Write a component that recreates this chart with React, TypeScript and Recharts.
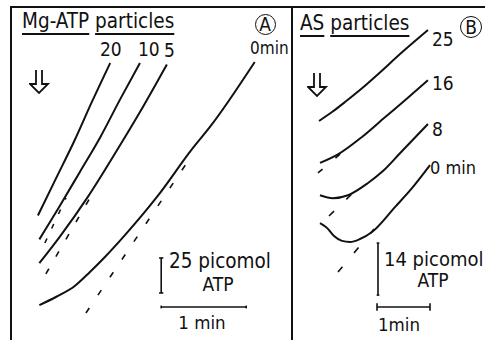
import { LineChart, Line, XAxis, YAxis, ReferenceLine } from 'recharts'
import type { ReactNode } from 'react'

type Pt = { t: number; atp: number }

// Panel A: Mg-ATP particles (t in s after addition, ATP in picomol)
const a20: Pt[] = [
  { t: 0, atp: 71 }, { t: 12, atp: 96 }, { t: 26, atp: 125 }, { t: 38, atp: 152 }, { t: 51, atp: 180 },
]
const a10: Pt[] = [
  { t: 1, atp: 54 }, { t: 15.5, atp: 78 }, { t: 29.5, atp: 102 }, { t: 44, atp: 127 }, { t: 58, atp: 154 }, { t: 72, atp: 180 },
]
const a5: Pt[] = [
  { t: 1, atp: 37 }, { t: 15.5, atp: 56 }, { t: 35, atp: 84 }, { t: 56, atp: 118 }, { t: 72, atp: 145 }, { t: 91, atp: 179 },
]
const a0: Pt[] = [
  { t: 1, atp: 7 }, { t: 13, atp: 13 }, { t: 26, atp: 20.7 }, { t: 36.7, atp: 30.7 }, { t: 47.3, atp: 41.4 },
  { t: 61.4, atp: 57 }, { t: 84, atp: 84.3 }, { t: 109.4, atp: 119.3 }, { t: 121.4, atp: 134.3 }, { t: 153, atp: 180.7 },
]
// extrapolated steady-state rates (dashed)
const a10Fit: Pt[] = [{ t: 4.9, atp: 51.4 }, { t: 19.8, atp: 83.6 }]
const a5Fit: Pt[] = [{ t: 5.6, atp: 29.3 }, { t: 36.7, atp: 83.6 }]
const a0Fit: Pt[] = [{ t: 33.9, atp: 1.4 }, { t: 107.3, atp: 112 }]

// Panel B: AS particles
const b25: Pt[] = [
  { t: -1.1, atp: 41.5 }, { t: 13.6, atp: 43.9 }, { t: 29.4, atp: 46.8 }, { t: 47.6, atp: 50.3 },
  { t: 65.7, atp: 54.1 }, { t: 92.9, atp: 60 }, { t: 122.3, atp: 66 },
]
const b16: Pt[] = [
  { t: 0, atp: 30.2 }, { t: 20.4, atp: 32.5 }, { t: 47.6, atp: 37.2 }, { t: 73.6, atp: 42.5 },
  { t: 96.3, atp: 47.1 }, { t: 122.3, atp: 52.5 },
]
const b8: Pt[] = [
  { t: 0, atp: 21.5 }, { t: 14.7, atp: 20.7 }, { t: 31.7, atp: 21.5 }, { t: 54.4, atp: 24.8 },
  { t: 71.3, atp: 28 }, { t: 90.6, atp: 32.8 }, { t: 122.3, atp: 40.7 },
]
const b0: Pt[] = [
  { t: 0, atp: 14 }, { t: 7.9, atp: 12.7 }, { t: 15.9, atp: 10.5 }, { t: 24.9, atp: 9.2 }, { t: 34, atp: 8.9 },
  { t: 45.3, atp: 9.7 }, { t: 58.9, atp: 11.6 }, { t: 84.9, atp: 18.3 }, { t: 104.2, atp: 23.4 }, { t: 124.6, atp: 29.6 },
]
const b16Fit: Pt[] = [{ t: -2.3, atp: 27.5 }, { t: 28.3, atp: 33.7 }]
const b8Fit: Pt[] = [{ t: 10.2, atp: 15.9 }, { t: 40.8, atp: 22.9 }]
const b0Fit: Pt[] = [{ t: 20.4, atp: 0.8 }, { t: 61.2, atp: 12.4 }]

// calibration bars: picomol bracket at time t from atp, 1 min bar at level y from t0
const scaleA = { t: 87, atp: 15.7, pmol: 25, y: 5.7, t0: 87, sec: 60 }
const scaleB = { t: 65.7, atp: -5.4, pmol: 14, y: -8.6, t0: 64.6, sec: 60 }

const FONT = '"DejaVu Sans Condensed", "DejaVu Sans", sans-serif'
const INK = '#111'

function Txt({ x, y, size, children, center }: {
  x: number; y: number; size: number; children: ReactNode; center?: boolean
}) {
  return (
    <div style={{
      position: 'absolute', left: x, top: y - 0.12 * size, fontSize: size, lineHeight: 1,
      fontFamily: FONT, color: INK, whiteSpace: 'nowrap',
      transform: center ? 'translateX(-50%)' : undefined,
    }}>{children}</div>
  )
}

function Circ({ x, y, r, ch }: { x: number; y: number; r: number; ch: string }) {
  return (
    <div style={{
      position: 'absolute', left: x - r, top: y - r, width: 2 * r, height: 2 * r, boxSizing: 'border-box',
      border: `1.7px solid ${INK}`, borderRadius: '50%', display: 'flex', alignItems: 'center',
      justifyContent: 'center', fontFamily: FONT, fontSize: 19, lineHeight: 1, color: INK,
    }}>{ch}</div>
  )
}

function Arrow({ x, y }: { x: number; y: number }) {
  return (
    <svg style={{ position: 'absolute', left: x, top: y }} width={22} height={26}>
      <path d="M7,1 L7,15 L1,15 L10,24 L19,15 L13,15 L13,1" fill="none" stroke={INK} strokeWidth={1.8} strokeLinejoin="miter" />
    </svg>
  )
}

function trace(d: Pt[], key: string, dashed?: string) {
  return (
    <Line key={key} data={d} dataKey="atp" type="monotone" stroke={INK}
      strokeWidth={dashed ? 1.6 : 2} strokeDasharray={dashed} dot={false}
      isAnimationActive={false} />
  )
}

function scaleBars(s: typeof scaleA) {
  const seg = (a: [number, number], b: [number, number], k: string) => (
    <ReferenceLine key={k} segment={[{ x: a[0], y: a[1] }, { x: b[0], y: b[1] }]} stroke={INK} strokeWidth={1.6} ifOverflow="visible" />
  )
  const top = s.atp + s.pmol
  const end = s.t0 + s.sec
  return [
    seg([s.t, s.atp], [s.t, top], 'v'),
    seg([s.t - 1.5, s.atp], [s.t + 1.5, s.atp], 'vb'),
    seg([s.t - 1.5, top], [s.t + 1.5, top], 'vt'),
    seg([s.t0, s.y], [end, s.y], 'h'),
    seg([s.t0, s.y - 1], [s.t0, s.y + 1], 'hl'),
    seg([end, s.y - 1], [end, s.y + 1], 'hr'),
  ]
}

const ul = { textDecoration: 'underline', textUnderlineOffset: 5 } as const

export default function App() {
  return (
    <div style={{ position: 'absolute', left: 0, top: 0, width: 485, height: 340, background: '#fff', overflow: 'hidden' }}>
      <div style={{ position: 'absolute', left: 0, top: 7 }}>
        <div style={{ position: 'absolute', left: 11 }}>
          <LineChart width={280} height={333} margin={{ top: 0, right: 0, bottom: 0, left: 0 }}>
            <XAxis dataKey="t" type="number" domain={[-19, 178.6]} hide allowDataOverflow />
            <YAxis type="number" domain={[-17.9, 220]} hide allowDataOverflow />
            {trace(a20, 'a20')}
            {trace(a10, 'a10')}
            {trace(a5, 'a5')}
            {trace(a0, 'a0')}
            {trace(a10Fit, 'a10f', '5 11')}
            {trace(a5Fit, 'a5f', '6 14')}
            {trace(a0Fit, 'a0f', '6 15.5')}
            {scaleBars(scaleA)}
          </LineChart>
        </div>
        <div style={{ position: 'absolute', left: 292 }}>
          <LineChart width={193} height={333} margin={{ top: 0, right: 0, bottom: 0, left: 0 }}>
            <XAxis dataKey="t" type="number" domain={[-31.7, 186.9]} hide allowDataOverflow />
            <YAxis type="number" domain={[-17.5, 72.2]} hide allowDataOverflow />
            {trace(b25, 'b25')}
            {trace(b16, 'b16')}
            {trace(b8, 'b8')}
            {trace(b0, 'b0')}
            {trace(b16Fit, 'b16f', '6 17')}
            {trace(b8Fit, 'b8f', '7 17')}
            {trace(b0Fit, 'b0f', '7 18')}
            {scaleBars(scaleB)}
          </LineChart>
        </div>
      </div>

      {/* frame */}
      <div style={{ position: 'absolute', left: 10, top: 6, width: 475, height: 1.6, background: INK }} />
      <div style={{ position: 'absolute', left: 10, top: 6, width: 1.6, height: 334, background: INK }} />
      <div style={{ position: 'absolute', left: 290.5, top: 6, width: 2, height: 334, background: INK }} />

      {/* panel A */}
      <Txt x={22} y={13} size={20.5}>
        <span style={ul}>Mg-ATP</span> <span style={ul}>particles</span>
      </Txt>
      <Circ x={265} y={24} r={10.5} ch="A" />
      <Txt x={100} y={42} size={19}>20</Txt>
      <Txt x={138} y={42} size={19}>10</Txt>
      <Txt x={164} y={43} size={19}>5</Txt>
      <Txt x={250} y={42} size={17}>0min</Txt>
      <Arrow x={29} y={69} />
      <Txt x={169} y={253} size={20.5}>25 picomol</Txt>
      <Txt x={218} y={277} size={19} center>ATP</Txt>
      <Txt x={202} y={316} size={18.5} center>1 min</Txt>

      {/* panel B */}
      <Txt x={300} y={15} size={20.5}>
        <span style={ul}>AS</span> <span style={ul}>particles</span>
      </Txt>
      <Circ x={471} y={27} r={11} ch="B" />
      <Txt x={432} y={32} size={19}>25</Txt>
      <Txt x={432} y={76} size={19}>16</Txt>
      <Txt x={432} y={122} size={19}>8</Txt>
      <Txt x={430} y={161} size={18}>0 min</Txt>
      <Arrow x={307} y={72} />
      <Txt x={384} y={251} size={20}>14 picomol</Txt>
      <Txt x={433} y={273} size={19} center>ATP</Txt>
      <Txt x={378} y={318} size={18.5}>1min</Txt>
    </div>
  )
}
